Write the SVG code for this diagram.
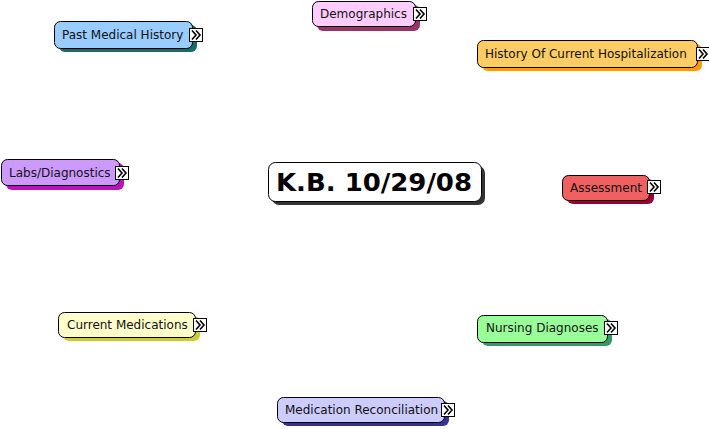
<svg xmlns="http://www.w3.org/2000/svg" xmlns:xlink="http://www.w3.org/1999/xlink" width="709" height="429" viewBox="0 0 709 429">
<defs>
<style>
.box{stroke:#000;stroke-width:1}
.lbl{font-family:"DejaVu Sans","Verdana",sans-serif;font-size:12px;fill:#111}
.title{font-family:"DejaVu Sans","Verdana",sans-serif;font-size:24px;font-weight:bold;fill:#000}
.chev{fill:none;stroke:#000;stroke-width:1.6}
</style>
<g id="icon">
<rect x="0.5" y="0.5" width="13" height="13" fill="#fff" stroke="#000"/>
<path class="chev" d="M3,2.5 L7,7 L3,11.5 M7,2.5 L11,7 L7,11.5"/>
</g>
</defs>
<rect width="709" height="429" fill="#fff"/>
<g id="connectors"></g>

<g id="central">
<rect x="272" y="166" width="213" height="39" rx="7" fill="#333"/>
<rect class="box" x="268.5" y="162.5" width="213" height="39" rx="7" fill="#fff"/>
<text class="title" x="276" y="191" textLength="196" lengthAdjust="spacingAndGlyphs">K.B. 10/29/08</text>
</g>

<g id="past-medical-history">
<rect x="59" y="25" width="138" height="27" rx="6" fill="#1b6a6a"/>
<rect class="box" x="54.5" y="21.5" width="138" height="27" rx="6" fill="#99ccff"/>
<text class="lbl" x="62" y="39">Past Medical History</text>
<use xlink:href="#icon" x="189" y="28"/>
</g>

<g id="demographics">
<rect x="317" y="5" width="103" height="26" rx="6" fill="#993366"/>
<rect class="box" x="312.5" y="1.5" width="103" height="25" rx="6" fill="#ffccff"/>
<text class="lbl" x="320" y="18">Demographics</text>
<use xlink:href="#icon" x="413" y="7"/>
</g>

<g id="history-of-current-hospitalization">
<rect x="482" y="44" width="220" height="27" rx="6" fill="#ff9900"/>
<rect class="box" x="477.5" y="40.5" width="220" height="27" rx="6" fill="#ffcc66"/>
<text class="lbl" x="485" y="58">History Of Current Hospitalization</text>
<use xlink:href="#icon" x="696" y="47"/>
</g>

<g id="labs-diagnostics">
<rect x="6" y="163" width="118" height="27" rx="6" fill="#bb11bb"/>
<rect class="box" x="1.5" y="159.5" width="118" height="26" rx="6" fill="#cc99ff"/>
<text class="lbl" x="9" y="177">Labs/Diagnostics</text>
<use xlink:href="#icon" x="115" y="166"/>
</g>

<g id="assessment">
<rect x="567" y="179" width="87" height="25" rx="6" fill="#990033"/>
<rect class="box" x="562.5" y="175.5" width="87" height="25" rx="6" fill="#f06060"/>
<text class="lbl" x="570" y="192">Assessment</text>
<use xlink:href="#icon" x="647" y="180"/>
</g>

<g id="current-medications">
<rect x="63" y="316" width="137" height="25" rx="6" fill="#cccc33"/>
<rect class="box" x="58.5" y="312.5" width="137" height="25" rx="6" fill="#ffffcc"/>
<text class="lbl" x="67" y="329">Current Medications</text>
<use xlink:href="#icon" x="193" y="318"/>
</g>

<g id="nursing-diagnoses">
<rect x="482" y="319" width="130" height="27" rx="6" fill="#339966"/>
<rect class="box" x="477.5" y="315.5" width="130" height="27" rx="6" fill="#99ff99"/>
<text class="lbl" x="486" y="332">Nursing Diagnoses</text>
<use xlink:href="#icon" x="604" y="321"/>
</g>

<g id="medication-reconciliation">
<rect x="282" y="401" width="167" height="25" rx="6" fill="#333399"/>
<rect class="box" x="277.5" y="397.5" width="167" height="25" rx="6" fill="#ccccff"/>
<text class="lbl" x="285" y="414">Medication Reconciliation</text>
<use xlink:href="#icon" x="441" y="403"/>
</g>
</svg>
